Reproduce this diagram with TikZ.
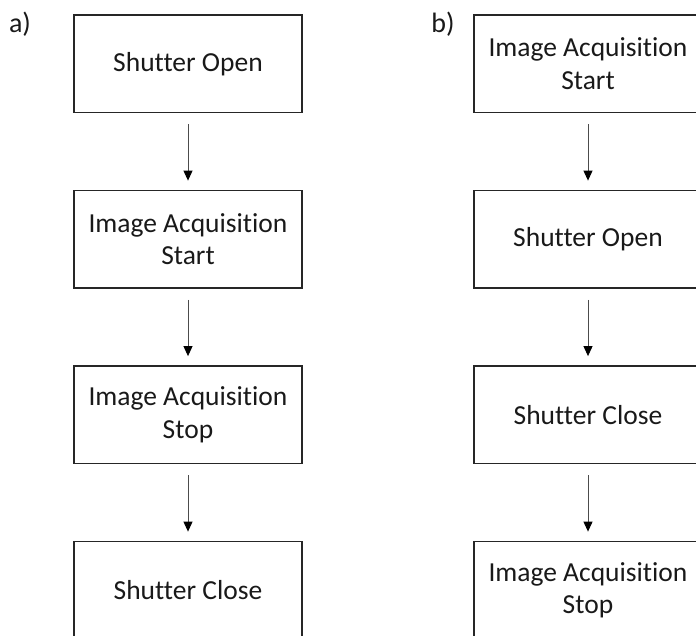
\documentclass[tikz,border=0pt]{standalone}
\usepackage{fontspec}
\setmainfont{Carlito}[Ligatures=NoCommon]
\usetikzlibrary{arrows.meta}
\begin{document}
\begin{tikzpicture}[x=1pt,y=-1pt,
  box/.style={draw=black!85, line width=1.8pt, minimum width=228pt, minimum height=97.5pt,
    inner sep=0pt, align=center, text=black!90,
    font=\fontsize{27.5}{32.6}\selectfont},
  lbl/.style={inner sep=0pt, text=black!90, font=\fontsize{28}{33}\selectfont},
  flow/.style={draw=black!70, line width=0.9pt, shorten <=11pt, shorten >=9pt,
    -{Triangle[length=10pt,width=9pt,color=black]}}]
\path[use as bounding box] (0,0) rectangle (696,635);
\clip (0,0) rectangle (696,635);
% column a
\node[box] (a1) at (188,63.75) {Shutter Open};
\node[box] (a2) at (188,239.25) {Image Acquisition\\Start};
\node[box] (a3) at (188,414.75) {Image Acquisition\\Stop};
\node[box] (a4) at (188,590.25) {Shutter Close};
% column b
\node[box] (b1) at (588,63.75) {Image Acquisition\\Start};
\node[box] (b2) at (588,239.25) {Shutter Open};
\node[box] (b3) at (588,414.75) {Shutter Close};
\node[box] (b4) at (588,590.25) {Image Acquisition\\Stop};
% labels
\node[lbl] (la) at (20,24) {a)};
\node[lbl] (lb) at (443,24) {b)};
% arrows
\draw[flow] (a1.south) -- (a2.north);
\draw[flow] (a2.south) -- (a3.north);
\draw[flow] (a3.south) -- (a4.north);
\draw[flow] (b1.south) -- (b2.north);
\draw[flow] (b2.south) -- (b3.north);
\draw[flow] (b3.south) -- (b4.north);
\end{tikzpicture}
\end{document}
